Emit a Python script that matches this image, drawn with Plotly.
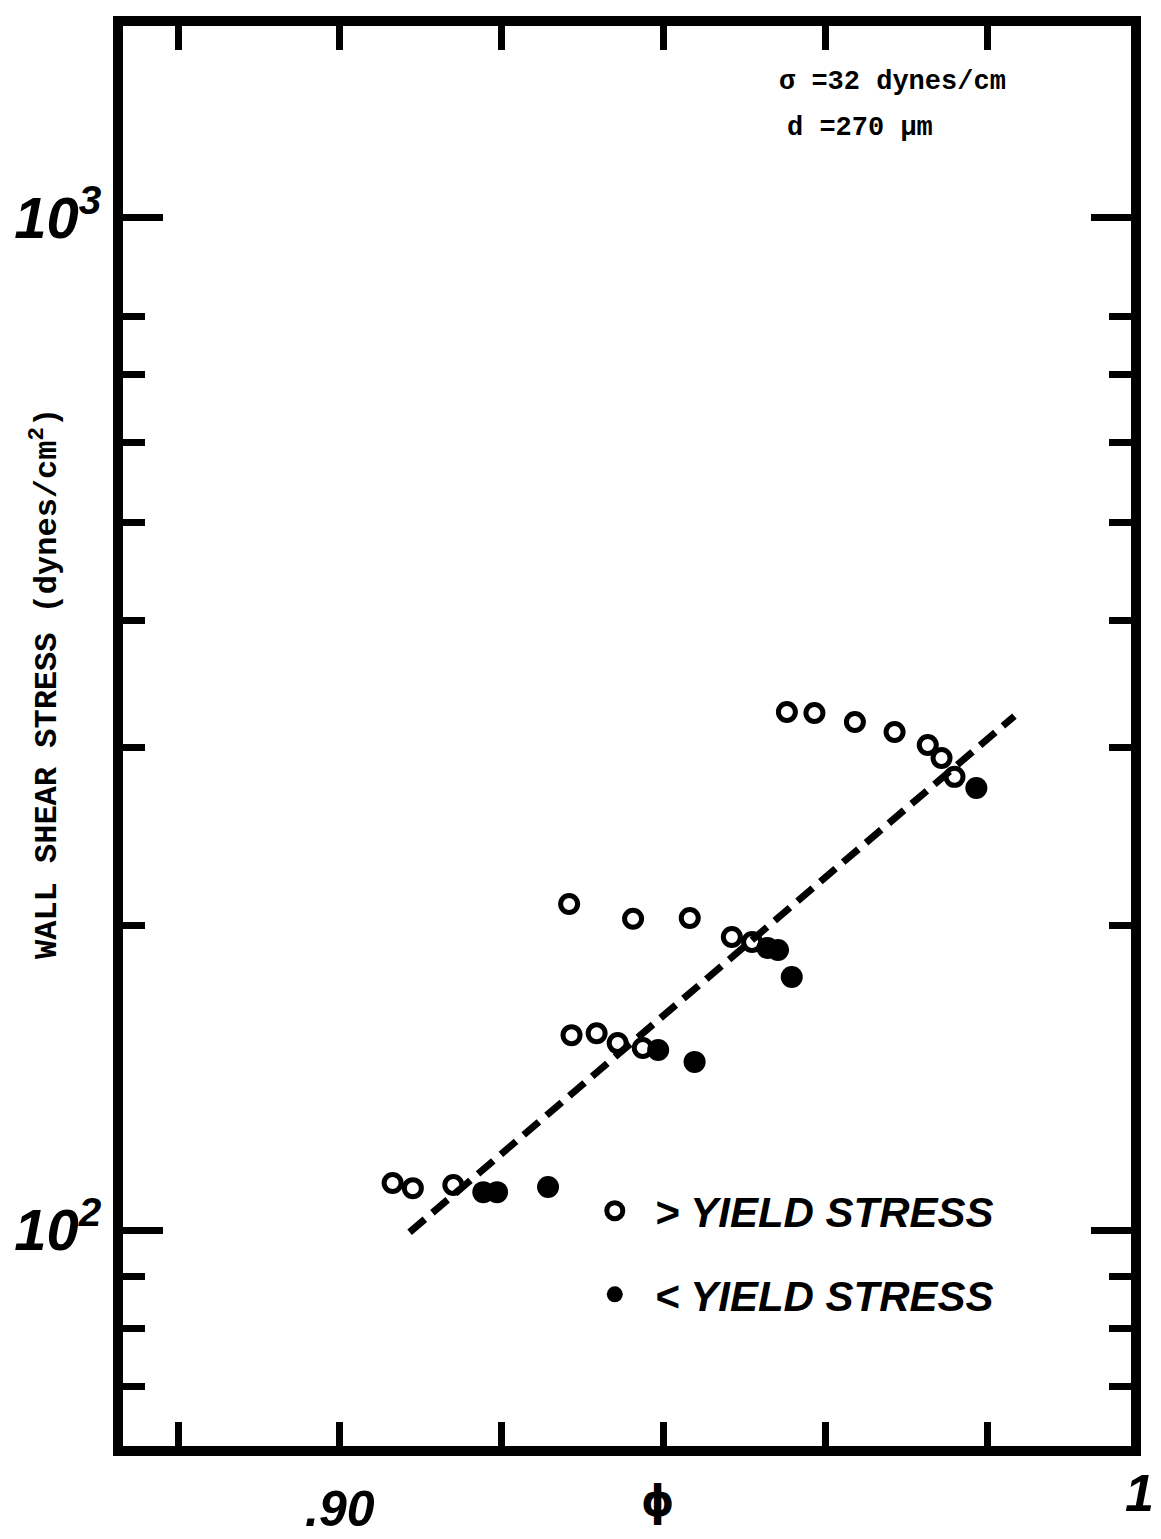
import plotly.graph_objects as go

# Volume fraction (phi) and wall shear stress (dynes/cm^2)
open_phi = [0.9065, 0.9090, 0.9140, 0.9283, 0.9362, 0.9432, 0.9484, 0.9509,
            0.9286, 0.9317, 0.9343, 0.9374, 0.9552, 0.9586, 0.9636, 0.9685,
            0.9726, 0.9743, 0.9759]
open_tau = [111.3, 110.0, 110.8, 210.0, 203.0, 203.4, 194.8, 192.6,
            155.8, 156.5, 153.0, 151.3, 325.0, 324.3, 317.7, 310.5,
            301.5, 292.7, 280.4]

filled_phi = [0.9177, 0.9194, 0.9257, 0.9393, 0.9438, 0.9528, 0.9541, 0.9558, 0.9786]
filled_tau = [109.0, 109.0, 110.3, 150.6, 146.6, 190.0, 189.1, 177.8, 273.4]

# Yield-stress line
fit_phi = [0.9086, 0.9833]
fit_tau = [99.5, 322.0]

x_tick_vals = [0.88, 0.90, 0.92, 0.94, 0.96, 0.98]
y_major_vals = [100, 1000]
y_major_text = ["10<sup>2</sup>", "10<sup>3</sup>"]
y_minor_vals = [70, 80, 90, 200, 300, 400, 500, 600, 700, 800]

HAND = "Liberation Sans"
TYPE = "Liberation Mono"

fig = go.Figure()

fig.add_trace(go.Scatter(
    x=fit_phi, y=fit_tau, mode="lines", showlegend=False,
    line=dict(color="black", width=7, dash="20px,10px"),
))
fig.add_trace(go.Scatter(
    x=open_phi, y=open_tau, mode="markers", name="> YIELD STRESS",
    legendgroup="a",
    marker=dict(symbol="circle-open", size=17, color="black",
                line=dict(width=5, color="black")),
))
fig.add_trace(go.Scatter(
    x=filled_phi, y=filled_tau, mode="markers", name="< YIELD STRESS",
    legendgroup="b",
    marker=dict(symbol="circle", size=22, color="black", line=dict(width=0)),
))

fig.update_layout(
    width=1161, height=1539,
    margin=dict(l=123, r=30, t=26, b=93),
    paper_bgcolor="white", plot_bgcolor="white",
    showlegend=True,
    legend=dict(
        x=0.4482, y=0.1895, xanchor="left", yanchor="top",
        bgcolor="rgba(0,0,0,0)", tracegroupgap=26, itemwidth=70,
        font=dict(family=HAND, size=42, color="black", style="italic", weight="bold"),
    ),
    xaxis=dict(
        range=[0.8732, 0.9977], showgrid=False, zeroline=False,
        showline=True, linewidth=10, linecolor="black", mirror="allticks",
        ticks="inside", ticklen=24, tickwidth=7, tickcolor="black",
        tickvals=x_tick_vals, showticklabels=False,
    ),
    yaxis=dict(
        type="log", range=[1.7866, 3.1897], showgrid=False, zeroline=False,
        showline=True, linewidth=10, linecolor="black", mirror="allticks",
        ticks="inside", ticklen=40, tickwidth=7, tickcolor="black",
        tickvals=y_major_vals, ticktext=y_major_text,
        tickfont=dict(family=HAND, size=58, color="black", style="italic", weight="bold"),
        minor=dict(ticks="inside", ticklen=22, tickwidth=7, tickcolor="black",
                   tickvals=y_minor_vals, showgrid=False),
    ),
)

annotations = [
    dict(text="σ =32 dynes/cm", x=0.6488, y=0.9606, xref="paper", yref="paper",
         xanchor="left", yanchor="middle", showarrow=False,
         font=dict(family=TYPE, size=27, color="black", weight="bold")),
    dict(text="d =270 μm", x=0.6567, y=0.9282, xref="paper", yref="paper",
         xanchor="left", yanchor="middle", showarrow=False,
         font=dict(family=TYPE, size=27, color="black", weight="bold")),
    dict(text=".90", x=0.90, y=-0.0445, xref="x", yref="paper",
         xanchor="center", yanchor="middle", showarrow=False,
         font=dict(family=HAND, size=50, color="black", style="italic", weight="bold")),
    dict(text="ϕ", x=0.5298, y=-0.0394, xref="paper", yref="paper",
         xanchor="center", yanchor="middle", showarrow=False,
         font=dict(family="DejaVu Sans", size=42, color="black", weight="bold")),
    dict(text="1", x=1.0089, y=-0.0331, xref="paper", yref="paper",
         xanchor="center", yanchor="middle", showarrow=False,
         font=dict(family=HAND, size=52, color="black", style="italic", weight="bold")),
    dict(text="WALL SHEAR STRESS (dynes/cm<sup>2</sup>)", x=-0.0774, y=0.5373,
         xref="paper", yref="paper", xanchor="center", yanchor="middle",
         textangle=-90, showarrow=False,
         font=dict(family=TYPE, size=32, color="black", weight="bold")),
]
fig.update_layout(annotations=annotations)

fig.write_html("out.html")
